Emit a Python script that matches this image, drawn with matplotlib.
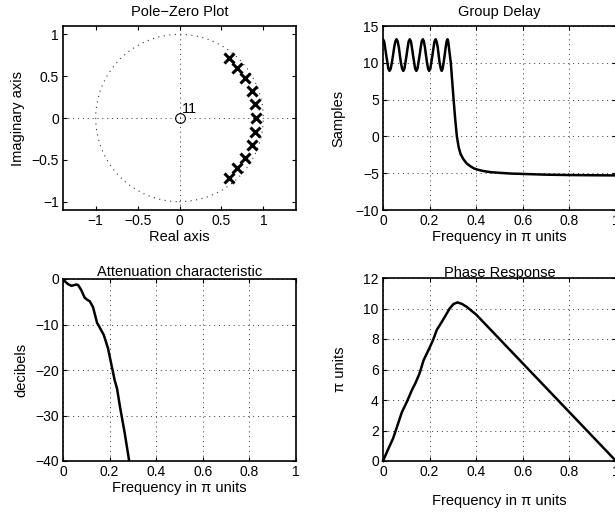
import matplotlib
matplotlib.use('Agg')
import matplotlib.pyplot as plt
from matplotlib.patches import Circle

plt.rcParams['font.family'] = ['Liberation Sans', 'DejaVu Sans']
plt.rcParams['font.size'] = 10.5
plt.rcParams['axes.linewidth'] = 1.2
plt.rcParams['xtick.direction'] = 'in'
plt.rcParams['ytick.direction'] = 'in'
plt.rcParams['xtick.major.size'] = 3
plt.rcParams['ytick.major.size'] = 3

# ================= data =================
# poles
pole_re = [0.917, 0.901, 0.901, 0.861, 0.861, 0.786, 0.786, 0.690, 0.690, 0.587, 0.587]
pole_im = [0.000, 0.164, -0.164, 0.323, -0.323, 0.475, -0.475, 0.603, -0.603, 0.719, -0.719]
zero_re = [0.0]
zero_im = [0.0]
zero_mult = '11'

# group delay
gd_w = [0.000, 0.005, 0.009, 0.014, 0.019, 0.023, 0.028,
        0.033, 0.038, 0.043, 0.048, 0.053, 0.058,
        0.063, 0.068, 0.0725, 0.077, 0.082, 0.087,
        0.092, 0.096, 0.101, 0.106, 0.110, 0.115,
        0.120, 0.124, 0.129, 0.134, 0.138, 0.143,
        0.148, 0.152, 0.157, 0.162, 0.166, 0.171,
        0.1755, 0.180, 0.1845, 0.189, 0.1935, 0.198,
        0.203, 0.207, 0.212, 0.217, 0.221, 0.226,
        0.230, 0.235, 0.239, 0.243, 0.248, 0.252,
        0.256, 0.260, 0.2645, 0.269, 0.273, 0.277,
        0.280, 0.284, 0.291, 0.297, 0.303, 0.310, 0.317, 0.325, 0.333,
        0.345, 0.360, 0.375, 0.390, 0.410, 0.430, 0.460, 0.500, 0.550,
        0.600, 0.700, 0.800, 0.900, 1.000]
gd_val = [13.2, 12.9, 12.1, 11.0, 10.0, 9.2, 8.9,
          9.2, 10.0, 11.0, 12.1, 12.9, 13.2,
          12.9, 12.1, 11.0, 10.0, 9.2, 8.9,
          9.2, 10.0, 11.0, 12.1, 12.9, 13.2,
          12.9, 12.1, 11.0, 10.0, 9.2, 8.9,
          9.2, 10.0, 11.0, 12.1, 12.9, 13.2,
          12.9, 12.1, 11.0, 10.0, 9.2, 8.9,
          9.2, 10.0, 11.0, 12.1, 12.9, 13.2,
          12.9, 12.1, 11.0, 10.0, 9.2, 8.9,
          9.2, 10.0, 11.0, 12.1, 12.9, 13.2,
          12.9, 11.8, 10.0, 7.5, 5.0, 2.3, 0.0, -1.5, -2.4,
          -3.1, -3.7, -4.05, -4.35, -4.55, -4.7, -4.85, -4.95, -5.05,
          -5.1, -5.2, -5.25, -5.28, -5.3]

# attenuation
att_w = [0.000, 0.010, 0.021, 0.036, 0.047, 0.058, 0.066, 0.079, 0.093, 0.105, 0.115,
         0.129, 0.146, 0.158, 0.175, 0.193, 0.208, 0.222, 0.232, 0.244, 0.265, 0.284]
att_db = [0.0, -0.6, -1.1, -1.5, -1.35, -1.2, -1.4, -2.5, -4.1, -4.6, -4.9,
          -6.2, -9.6, -10.7, -12.3, -15.2, -18.9, -22.3, -24.1, -27.9, -33.9, -40.0]

# phase
ph_w = [0.000, 0.020, 0.043, 0.060, 0.081, 0.103, 0.124, 0.139, 0.157, 0.174, 0.196,
        0.214, 0.231, 0.249, 0.267, 0.286, 0.303, 0.320, 0.339, 0.360, 0.400,
        0.500, 0.600, 0.700, 0.800, 0.900, 1.000]
ph_pi = [0.0, 0.7, 1.47, 2.24, 3.2, 3.9, 4.65, 5.1, 5.75, 6.6, 7.3,
         7.9, 8.6, 9.04, 9.5, 10.0, 10.3, 10.4, 10.3, 10.1, 9.6,
         8.0, 6.4, 4.8, 3.2, 1.6, 0.0]

freq_ticks = [0, 0.2, 0.4, 0.6, 0.8, 1]

W, H = 615, 515
fig = plt.figure(figsize=(W / 100, H / 100), dpi=100)


def place(left, right, top, bottom):
    return fig.add_axes([left / W, 1 - bottom / H, (right - left) / W, (bottom - top) / H])


ax1 = place(63, 296, 26, 210)
ax2 = place(383, 616, 26, 210)
ax3 = place(63, 296, 279, 461)
ax4 = place(383, 616, 278, 461)

grid_kw = dict(color='#333333', linestyle=(0, (1, 4)), linewidth=0.7)

# ----- pole-zero -----
ax1.add_patch(Circle((0, 0), 1, fill=False, edgecolor='#333333', linestyle=(0, (1, 4)), linewidth=0.8))
ax1.axhline(0, **grid_kw)
ax1.axvline(0, **grid_kw)
ax1.plot(pole_re, pole_im, 'x', color='black', markersize=7, markeredgewidth=2.2)
ax1.plot(zero_re, zero_im, 'o', markerfacecolor='none', markeredgecolor='black',
         markersize=7, markeredgewidth=0.8)
ax1.text(zero_re[0] + 0.03, zero_im[0] + 0.02, zero_mult, fontsize=10.5, ha='left', va='bottom')
ax1.set_xlim(-1.39, 1.39)
ax1.set_ylim(-1.1, 1.1)
ax1.set_xticks([-1, -0.5, 0, 0.5, 1])
ax1.set_yticks([-1, -0.5, 0, 0.5, 1])
ax1.set_xlabel('Real axis', labelpad=1)
ax1.set_ylabel('Imaginary axis', labelpad=5)
ax1.set_title('Pole\u2212Zero Plot', fontsize=10.5, pad=7)

# ----- group delay -----
ax2.plot(gd_w, gd_val, color='black', linewidth=1.8)
ax2.set_xlim(0, 1)
ax2.set_ylim(-10, 15)
ax2.set_yticks([-10, -5, 0, 5, 10, 15])
ax2.grid(True, **grid_kw)
ax2.set_xlabel('Frequency in \u03c0 units', labelpad=1)
ax2.set_ylabel('Samples', labelpad=7)
ax2.set_title('Group Delay', fontsize=10.5, pad=7)

# ----- attenuation -----
ax3.plot(att_w, att_db, color='black', linewidth=1.8)
ax3.set_xlim(0, 1)
ax3.set_ylim(-40, 0)
ax3.set_yticks([-40, -30, -20, -10, 0])
ax3.grid(True, **grid_kw)
ax3.set_xlabel('Frequency in \u03c0 units', labelpad=1)
ax3.set_ylabel('decibels', labelpad=5)
ax3.set_title('Attenuation characteristic', fontsize=10.5, pad=2)

# ----- phase -----
ax4.plot(ph_w, ph_pi, color='black', linewidth=1.8, clip_on=False)
ax4.set_xlim(0, 1)
ax4.set_ylim(0, 12)
ax4.set_yticks([0, 2, 4, 6, 8, 10, 12])
ax4.grid(True, **grid_kw)
ax4.set_xlabel('Frequency in \u03c0 units', labelpad=11)
ax4.set_ylabel('\u03c0 units', labelpad=12)
ax4.set_title('Phase Response', fontsize=10.5, pad=0.5)

fmt = plt.FuncFormatter(lambda v, p: f'{v:g}'.replace('-', '\u2212'))
for ax in (ax2, ax3, ax4):
    ax.set_xticks(freq_ticks)
for ax in (ax1, ax2, ax3, ax4):
    ax.tick_params(labelsize=10, pad=3, top=True, right=True)
    ax.xaxis.set_major_formatter(fmt)
    ax.yaxis.set_major_formatter(fmt)

fig.savefig('out.png', dpi=100)
